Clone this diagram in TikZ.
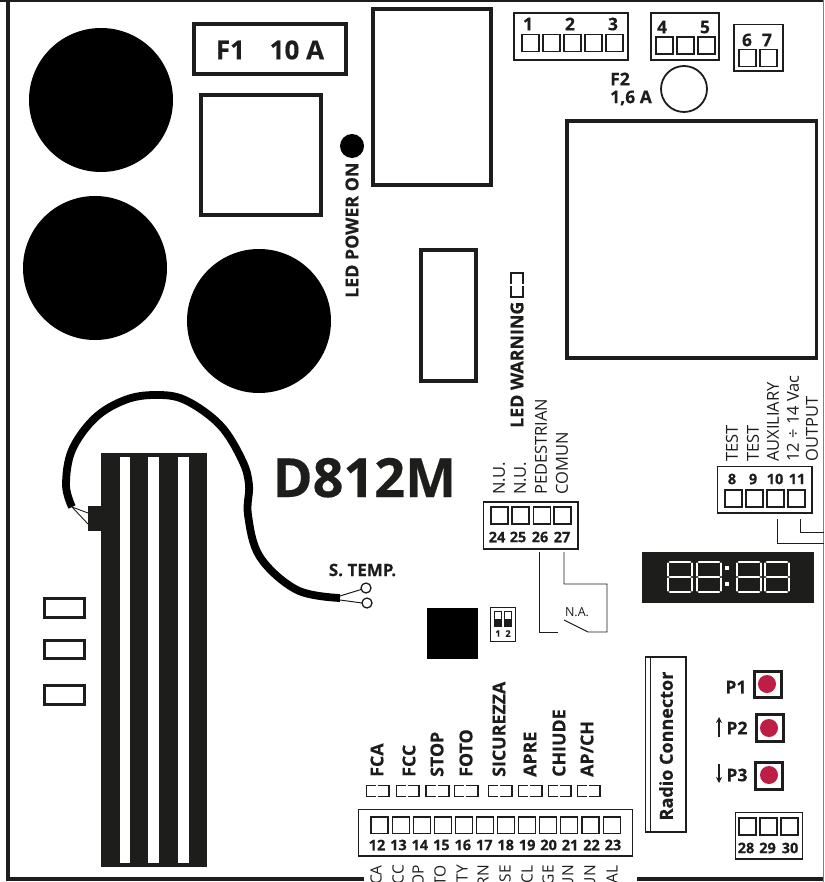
\documentclass[tikz,border=0pt]{standalone}
\usepackage{fontspec}
\setmainfont{Open Sans}[BoldFeatures={FakeBold=0.35}]
\usetikzlibrary{arrows.meta}
\definecolor{ink}{HTML}{1D1D1B}
\definecolor{btn}{HTML}{BE1E45}
\newcommand{\fs}[1]{\fontsize{#1}{#1}\selectfont}
\newcommand{\sqrow}[3]{\foreach \xx in {#1}{\draw[termsq] (\xx,#2) rectangle ++(#3,17);}}
\newcommand{\brk}[3]{% x1 x2 y
  \draw[brkline] ({(#1+#2)/2-2},#3) -- (#1,#3) -- (#1,#3+11) -- ({(#1+#2)/2-2},#3+11);
  \draw[brkline] ({(#1+#2)/2},#3) -- (#2,#3) -- (#2,#3+11) -- ({(#1+#2)/2},#3+11);}
\newcommand{\segdigit}[1]{%
  \draw[seg] (#1+2,562) -- (#1+22,562);
  \draw[seg] (#1+2,577) -- (#1+22,577);
  \draw[seg] (#1+2,592) -- (#1+22,592);
  \draw[seg] (#1,563.5) -- (#1,575.5);
  \draw[seg] (#1,578.5) -- (#1,590.5);
  \draw[seg] (#1+24,563.5) -- (#1+24,575.5);
  \draw[seg] (#1+24,578.5) -- (#1+24,590.5);}
\tikzset{
  x=1pt,y=-1pt,
  heavy/.style={draw=ink,line width=3.4pt,fill=white},
  thinbox/.style={draw=ink,line width=1.1pt},
  brkline/.style={draw=ink,line width=1.3pt},
  termbox/.style={draw=ink,line width=1.3pt},
  termsq/.style={draw=ink,line width=1.1pt},
  wire/.style={draw=ink,line width=0.9pt},
  seg/.style={draw=white,line width=2.4pt,line cap=round},
  num/.style={inner sep=0pt,font=\bfseries\fs{14.5}},
  bignum/.style={inner sep=0pt,font=\bfseries\fs{17.5}},
  vbold/.style={inner sep=0pt,rotate=90,anchor=west,font=\bfseries\fs{17.8}},
  vreg/.style={inner sep=0pt,rotate=90,anchor=west,font=\fs{16.5}},
  cut/.style={inner sep=0pt,rotate=90,anchor=east,font=\fs{15.5}},
  lbl/.style={inner sep=0pt,font=\bfseries\fs{17.5}},
  pbox/.style={draw=ink,line width=3pt},
}
\begin{document}
\begin{tikzpicture}[text=ink]
\clip (0,0) rectangle (824,882);
\fill[white] (0,0) rectangle (824,882);
% board outline
\fill[ink] (6,0) rectangle (10,881);
\fill[ink] (0,0) rectangle (824,2.5);
\fill[ink] (6,877) rectangle (364,881);
\fill[ink] (637,877) rectangle (824,881);
\draw[gray,line width=0.8pt] (823,0) -- (823,882);
% capacitors
\fill[black] (101,100) circle (72);
\fill[black] (95,268) circle (72);
\fill[black] (259,321) circle (72);
% relays and fuse
\draw[heavy] (194,24) rectangle (346,74);
\node[inner sep=0pt,font=\bfseries\fs{26}] (f1) at (270,50) {F1\hspace{0.95em}10 A};
\draw[heavy] (201,95) rectangle (321,215);
\draw[heavy] (373,9) rectangle (491,185);
\draw[heavy] (421,250) rectangle (476,381);
\draw[heavy] (567,121) rectangle (816.5,358);
\fill[black] (352,146) circle (12);
\node[vbold] (ledon) at (352,298) {LED POWER ON};
\node[vbold] (ledwarn) at (517,428) {LED WARNING};
\draw[brkline] (523,283.5) -- (523,273) -- (511,273) -- (511,283.5);
\draw[brkline] (523,285.5) -- (523,297) -- (511,297) -- (511,285.5);
% terminal block 1-3
\draw[termbox] (514,13) rectangle (628,60);
\sqrow{522,543,564,585,606}{34.5}{17}
\node[bignum] (t1) at (528,24) {1};
\node[bignum] (t2) at (570,24) {2};
\node[bignum] (t3) at (613,24) {3};
% 4-5
\draw[termbox] (651,13) rectangle (719,60);
\sqrow{656,677,698}{37}{17}
\node[bignum] (t4) at (662,27) {4};
\node[bignum] (t5) at (705,27) {5};
% 6-7
\draw[termbox] (734,24.5) rectangle (783,71);
\sqrow{739,760}{49.5}{17}
\node[bignum] (t6) at (747,40) {6};
\node[bignum] (t7) at (767,40) {7};
% F2
\draw[ink,line width=1.8pt] (684,89) circle (23);
\node[lbl,anchor=west] (f2a) at (610,79) {F2};
\node[lbl,anchor=west] (f2b) at (610,98) {1,6 A};
% 8-11
\draw[termbox] (717.5,466.5) rectangle (812,513);
\sqrow{725,746,767,788}{490}{17}
\node[num] (t8) at (732,479) {8};
\node[num] (t9) at (753,479) {9};
\node[num] (t10) at (775,479) {10};
\node[num] (t11) at (797,479) {11};
\node[vreg] (ltest) at (732,462) {TEST};
\node[vreg] (ltestb) at (753,462) {TEST};
\node[vreg] (laux) at (773,462) {AUXILIARY};
\node[vreg] (lvac) at (793,462) {12 ÷ 14 Vac};
\node[vreg] (lout) at (812,462) {OUTPUT};
\draw[wire] (777,519) -- (777,543) -- (824,543);
\draw[wire] (800,519) -- (800,532) -- (824,532);
% 24-27
\draw[termbox] (483.5,502) rectangle (578,549);
\sqrow{491,512,533.5,554}{507}{17}
\node[num] (t24) at (497,537) {24};
\node[num] (t25) at (518,537) {25};
\node[num] (t26) at (540,537) {26};
\node[num] (t27) at (562,537) {27};
\node[vreg] (lnua) at (499,495) {N.U.};
\node[vreg] (lnub) at (520,495) {N.U.};
\node[vreg] (lped) at (541,495) {PEDESTRIAN};
\node[vreg] (lcom) at (562,495) {COMUN};
\draw[wire] (539,552) -- (539,632) -- (558,632);
\draw[wire] (564,552) -- (564,584) -- (607,584) -- (607,632) -- (588,632) -- (564,620);
\node[inner sep=0pt,font=\fs{12.5}] (na) at (577,612) {N.A.};
% display
\fill[ink] (642,552) rectangle (814,603);
\segdigit{668}\segdigit{697}\segdigit{737}\segdigit{765}
\fill[white] (725,566) rectangle (729,570);
\fill[white] (725,582) rectangle (729,586);
% dip switch and chip
\fill[black] (427,608) rectangle (478,659);
\draw[ink,line width=1pt] (490.5,607.5) rectangle (515,641);
\foreach \xx in {494,504}{
  \draw[ink,line width=0.6pt] (\xx,611) rectangle ++(7,15);
  \fill[ink] (\xx,619) rectangle ++(7,7.5);}
\node[inner sep=0pt,font=\bfseries\fs{9}] (d1) at (498,633.5) {1};
\node[inner sep=0pt,font=\bfseries\fs{9}] (d2) at (508,633.5) {2};
% title
\node[inner sep=0pt,anchor=base west,font=\bfseries\fs{54}] (title) at (272.5,497) {D812M};
% heatsink
\fill[ink] (101,453) rectangle (207,867);
\fill[ink] (88,506) rectangle (101,531);
\foreach \xx/\ww in {120/10,148/11,178/11}{\fill[white] (\xx,457) rectangle ++(\ww,406);}
% sensor cable
\draw[black,line width=7.8pt,line cap=butt] plot[smooth,tension=0.6] coordinates {(72,507) (66,485) (72,450) (95,418) (125,400) (155,395) (185,400) (220,425) (242,460) (249,485) (248,515) (260,557) (297,590) (340,598)};
\draw[ink,line width=0.9pt] (72,507) -- (88,513);
\draw[ink,line width=0.9pt] (72,507) -- (88,524);
\draw[ink,line width=1pt] (340,596) -- (361,589.5);
\draw[ink,line width=1pt] (340,600) -- (362,603);
\draw[ink,line width=1.3pt] (366,588) circle (5);
\draw[ink,line width=1.3pt] (367,603) circle (5);
\node[lbl,font=\bfseries\fs{17}] (stemp) at (362.5,570) {S. TEMP.};
% small rects
\foreach \yy in {598.5,640,685.5}{\draw[ink,line width=3pt] (44,\yy) rectangle ++(40,18.5);}
% terminal block 12-23
\draw[termbox] (358.5,809.5) rectangle (632.5,856);
\foreach \ii in {0,...,11}{\draw[termsq] ({371+21.1*\ii},817) rectangle ++(17,16.5);}
\foreach \ii/\tt in {0/12,1/13,2/14,3/15,4/16,5/17,6/18,7/19,8/20,9/21,10/22,11/23}{
  \node[num] (t\tt) at ({377+21.45*\ii},845) {\tt};}
% input labels
\node[vbold] (lfca) at (377,777) {FCA};
\node[vbold] (lfcc) at (409,777) {FCC};
\node[vbold] (lstop) at (437,777) {STOP};
\node[vbold] (lfoto) at (466,777) {FOTO};
\node[vbold] (lsic) at (499,777) {SICUREZZA};
\node[vbold] (lapre) at (530,777) {APRE};
\node[vbold] (lchi) at (559,777) {CHIUDE};
\node[vbold] (lapch) at (587,777) {AP/CH};
\brk{366.5}{389}{785.5}\brk{396.5}{419}{785.5}\brk{426}{449}{785.5}\brk{454.5}{478}{785.5}
\brk{488.5}{512}{785.5}\brk{518.5}{542}{785.5}\brk{548.5}{571}{785.5}\brk{577.5}{600}{785.5}
% clipped labels at the bottom edge
\foreach \xx/\tt/\nn in {376/CA/a,398/CC/b,418/OP/c,440/TO/d,462/TY/e,483/RN/f,505/SE/g,527/CL/h,548/GE/i,568/UN/j,590/UN/k,612/AL/l}{
  \node[cut] (cut\nn) at (\xx,865) {\tt};}
% radio connector
\draw[thinbox] (645.5,657) rectangle (686,832);
\draw[thinbox] (650.5,657) -- (650.5,832);
\node[inner sep=0pt,rotate=90,font=\bfseries\fs{18}] (radio) at (666,746) {Radio Connector};
% push buttons
\draw[pbox] (754.5,671.5) rectangle (781.5,697.5);
\fill[btn] (767,684) circle (9);
\draw[pbox] (756.5,714.5) rectangle (783,741);
\fill[btn] (769,728) circle (9);
\draw[pbox] (755.5,762.5) rectangle (782,789);
\fill[btn] (769,775) circle (9);
\node[lbl] (p1) at (736,687) {P1};
\node[lbl] (p2) at (737,728) {P2};
\node[lbl] (p3) at (737,775) {P3};
\coordinate (au) at (719,737);
\coordinate (av) at (719,717);
\coordinate (bu) at (719,764);
\coordinate (bv) at (719,783);
\draw[ink,line width=1.2pt,-{Stealth[length=6pt,width=6pt]}] (au) -- (av);
\draw[ink,line width=1.2pt,-{Stealth[length=6pt,width=6pt]}] (bu) -- (bv);
% 28-30
\draw[termbox] (735.5,812.5) rectangle (802.5,859);
\sqrow{739,760,781}{818}{17}
\node[num] (t28) at (746,848) {28};
\node[num] (t29) at (767.5,848) {29};
\node[num] (t30) at (790,848) {30};
\end{tikzpicture}
\end{document}
